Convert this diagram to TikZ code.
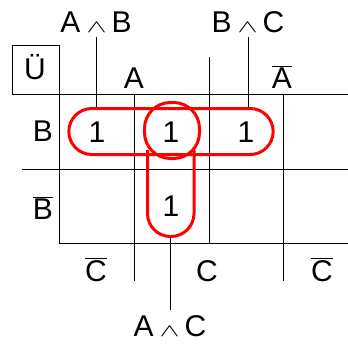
\documentclass[tikz,border=0pt]{standalone}
\usepackage{fontspec}
\setmainfont{Liberation Sans}
\usepackage{graphicx}
\usetikzlibrary{shapes.misc}
\newcommand\negl[1]{$\overline{\mbox{#1}}$}
\newcommand\conj{\hspace{6pt}\resizebox{20pt}{10pt}{$\wedge$}\hspace{5pt}}

\begin{document}
\begin{tikzpicture}[x=1pt, y=-1pt,
  % Text styles
  lbl/.style={anchor=base, inner sep=5pt, font=\fontsize{30}{36}\selectfont},
  % Line styles
  grid/.style={black, line width=0.9pt},
  tie/.style={black, line width=0.8pt},
  loop/.style={draw=red, line width=3pt},
]
\useasboundingbox (0,0) rectangle (348,343);

% === GRID ===
\draw[grid] (12,45) rectangle (59,94);
\draw[grid] (59,94) -- (348,94);
\draw[grid] (22,169) -- (348,169);
\draw[grid] (59,94) -- (59,243) -- (348,243);
\draw[grid] (134,94) -- (134,281);
\draw[grid] (209,57) -- (209,243);
\draw[grid] (283,94) -- (283,281);

% === VARIABLE LABELS ===
\node[lbl] (U)   at (35,79)  {Ü};
\node[lbl] (A)   at (134,88) {A};
\node[lbl] (nA)  at (282,88) {\negl{A}};
\node[lbl] (B)   at (43,141) {B};
\node[lbl] (nB)  at (43,219) {\negl{B}};
\node[lbl] (nC1) at (96,281) {\negl{C}};
\node[lbl] (C)   at (207,281) {C};
\node[lbl] (nC2) at (322,281) {\negl{C}};

% === CELL ENTRIES ===
\node[lbl] (m1) at (97,142)  {1};
\node[lbl] (m2) at (171,142) {1};
\node[lbl] (m3) at (246,142) {1};
\node[lbl] (m4) at (171,216) {1};

% === LOOPS ===
\node[loop, rounded rectangle, minimum width=211, minimum height=46] (hbox) at (171,131.5) {};
\node[loop, rectangle, rounded corners=26pt, minimum width=55, minimum height=56] (mid) at (172,130.5) {};
\draw[loop, rounded corners=23pt] (147.5,150) -- (147.5,236.5) -- (194,236.5) -- (194,150);
\coordinate (vbot) at (171,236.5);

% === TERMS ===
\node[lbl] (AB) at (96,32)  {A\conj B};
\node[lbl] (BC) at (248,32) {B\conj C};
\node[lbl] (AC) at (170,336) {A\conj C};
\draw[tie] (AB.south) -- (AB.south |- hbox.north);
\draw[tie] (BC.south) -- (BC.south |- hbox.north);
\draw[tie] (AC.north) -- (AC.north |- vbot);

\end{tikzpicture}
\end{document}
